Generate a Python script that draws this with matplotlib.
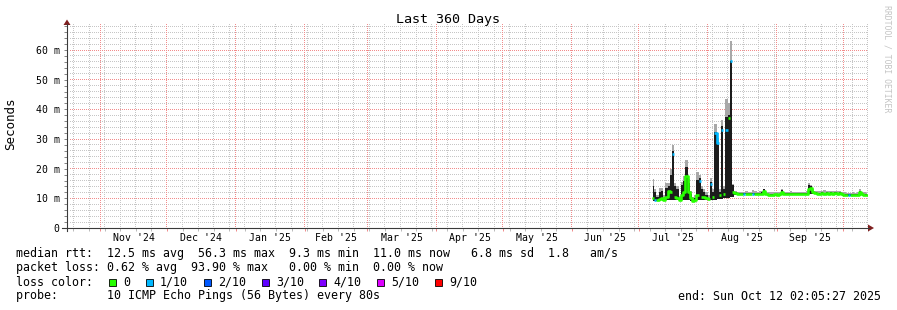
import numpy as np
import pandas as pd
import matplotlib
matplotlib.use('Agg')
import matplotlib.pyplot as plt
import matplotlib.dates as mdates
from matplotlib.ticker import MultipleLocator, FixedLocator, FuncFormatter
from matplotlib.patches import Rectangle, Polygon
from matplotlib.lines import Line2D
from matplotlib.transforms import blended_transform_factory

W, H = 897, 310
MONO = 'DejaVu Sans Mono'

# rtt values in ms, one value per day from 2025-07-07 (no data before)
first_day = '2025-07-07 12:00'
median = [
    10.0, 9.5, 9.5, 9.8, 10.2, 9.5, 10.5, 12.5, 12.0, 25.0,
    10.5, 10.0, 9.5, 11.0, 12.0, 17.5, 12.0, 10.0, 9.2, 9.5,
    11.0, 16.0, 10.5, 10.3, 10.0, 9.7, 15.0, 10.5, 32.0, 28.5,
    11.0, 33.0, 11.5, 33.0, 37.0, 56.3, 12.0, 11.8, 11.5, 11.5,
    11.5, 11.5, 11.6, 11.5, 11.5, 11.6, 11.5, 11.5, 11.6, 11.6,
    12.4, 11.3, 11.2, 11.2, 11.2, 11.3, 11.2, 11.3, 12.3, 11.5,
    11.5, 11.5, 11.6, 11.5, 11.5, 11.5, 11.5, 11.4, 11.5, 11.6,
    13.0, 13.5, 12.2, 11.7, 11.6, 11.6, 11.7, 11.6, 11.7, 11.6,
    11.8, 11.6, 11.7, 11.6, 11.7, 11.5, 11.2, 11.1, 11.1, 11.1,
    11.2, 11.1, 11.2, 12.0, 11.3, 11.2, 11.1]
smoke_low = [
    9.2, 9.0, 9.2, 9.3, 9.3, 9.2, 9.3, 9.5, 9.5, 9.5,
    9.3, 9.3, 9.2, 9.4, 9.5, 9.6, 9.4, 9.2, 8.9, 9.1,
    9.3, 9.4, 9.5, 9.6, 9.5, 9.4, 9.5, 9.6, 9.6, 9.8,
    9.8, 9.9, 10.0, 10.1, 10.2, 10.3, 10.6, 11.2, 11.2, 11.2,
    11.2, 11.2, 11.3, 11.2, 11.2, 11.3, 11.2, 11.2, 11.3, 11.3,
    11.4, 11.0, 10.9, 10.9, 10.9, 11.0, 10.9, 11.0, 11.3, 11.2,
    11.2, 11.2, 11.3, 11.2, 11.2, 11.2, 11.2, 11.1, 11.2, 11.3,
    11.5, 11.6, 11.5, 11.4, 11.3, 11.3, 11.4, 11.3, 11.4, 11.3,
    11.5, 11.3, 11.4, 11.3, 11.4, 11.2, 10.9, 10.8, 10.8, 10.8,
    10.9, 10.8, 10.9, 11.3, 11.0, 10.9, 10.8]
smoke_hi = [
    14.0, 12.0, 10.5, 12.3, 12.5, 10.2, 13.5, 14.0, 18.0, 26.0,
    14.0, 13.0, 10.0, 14.5, 16.0, 20.6, 15.3, 11.5, 9.8, 10.2,
    16.3, 17.0, 13.0, 12.0, 11.0, 10.2, 15.5, 12.0, 32.5, 29.0,
    12.0, 34.5, 13.0, 37.5, 38.0, 56.3, 14.5, 12.2, 11.8, 11.8,
    11.8, 11.8, 11.9, 11.8, 11.8, 11.9, 11.9, 11.8, 11.9, 12.0,
    13.0, 11.6, 11.5, 11.5, 11.5, 11.6, 11.5, 11.6, 12.8, 11.8,
    11.8, 11.8, 11.9, 11.8, 11.8, 11.8, 11.8, 11.7, 11.8, 11.9,
    14.5, 14.0, 12.6, 12.0, 11.9, 11.9, 12.0, 11.9, 12.0, 11.9,
    12.1, 11.9, 12.0, 11.9, 12.0, 11.8, 11.5, 11.4, 11.4, 11.4,
    11.5, 11.4, 11.5, 12.6, 11.6, 11.5, 11.4]
smoke_top = [
    16.5, 13.0, 11.0, 13.5, 13.5, 11.0, 15.3, 15.3, 20.0, 28.0,
    15.3, 14.0, 10.8, 15.5, 17.5, 23.0, 16.5, 12.5, 10.5, 11.0,
    19.0, 18.0, 14.0, 13.0, 12.0, 11.0, 17.0, 13.0, 35.0, 30.5,
    13.0, 36.5, 14.0, 43.5, 42.0, 63.0, 15.0, 12.6, 12.3, 12.3,
    12.3, 12.3, 12.4, 12.3, 12.3, 12.8, 12.5, 12.3, 12.4, 12.6,
    13.3, 12.1, 12.0, 12.0, 12.0, 12.1, 12.0, 12.1, 13.2, 12.3,
    12.3, 12.3, 12.4, 12.3, 12.3, 12.3, 12.3, 12.2, 12.3, 12.4,
    15.2, 14.5, 13.0, 12.5, 12.4, 12.4, 12.5, 12.8, 12.5, 12.4,
    12.6, 12.4, 12.5, 12.4, 12.5, 12.3, 12.0, 11.9, 11.9, 11.9,
    12.0, 11.9, 12.0, 13.0, 12.1, 12.0, 11.9]
# day indexes where 1 of 10 pings was lost
loss_1_days = [1, 9, 21, 26, 28, 29, 31, 33, 35, 41, 45, 88]

t_start = '2024-10-17 02:05:27'
t_end = '2025-10-12 02:05:27'
month_labels = ["Nov '24", "Dec '24", "Jan '25", "Feb '25", "Mar '25", "Apr '25",
                "May '25", "Jun '25", "Jul '25", "Aug '25", "Sep '25"]
loss_labels = ['0', '1/10', '2/10', '3/10', '4/10', '5/10', '9/10']
loss_colors = ['#26ff00', '#00b8ff', '#0059ff', '#5e00ff', '#7e00ff', '#dd00ff', '#ff0000']

legend_rows = [
    "median rtt:  12.5 ms avg  56.3 ms max  9.3 ms min  11.0 ms now   6.8 ms sd  1.8   am/s",
    "packet loss: 0.62 % avg  93.90 % max   0.00 % min  0.00 % now",
    "loss color:",
    "probe:       10 ICMP Echo Pings (56 Bytes) every 80s",
]

GRID = (0.78, 0.78, 0.78, 1.0)
MGRID = (0.95, 0.55, 0.55, 1.0)


def fx(x):
    return x / W


def fy(y):
    return 1 - y / H


def step_xy(t, v):
    # horizontal piece per day, broken where value is nan
    xs, ys = [], []
    for ti, vi in zip(t, v):
        if np.isnan(vi):
            xs.append(np.nan)
            ys.append(np.nan)
            continue
        xs += [ti - 0.5, ti + 0.5]
        ys += [vi, vi]
    return xs, ys


fig = plt.figure(figsize=(W / 100, H / 100), dpi=100)
fig.patch.set_facecolor('white')
ax = fig.add_axes([fx(67), fy(228), 801 / W, 204 / H])
ax.set_facecolor('none')

days = mdates.date2num(pd.date_range(first_day, periods=len(median), freq='D'))
ax.fill_between(days, smoke_low, smoke_hi, step='mid', color='#1c1c1c', lw=0, zorder=2)
ax.fill_between(days, smoke_hi, smoke_top, step='mid', color='#a8a8a8', lw=0, zorder=2)

med = np.array(median, dtype=float)
lost = np.zeros(len(med), dtype=bool)
lost[loss_1_days] = True
xs, ys = step_xy(days, np.where(lost, np.nan, med))
ax.plot(xs, ys, color=loss_colors[0], lw=1.9, solid_capstyle='butt', zorder=3)
xs, ys = step_xy(days, np.where(lost, med, np.nan))
ax.plot(xs, ys, color=loss_colors[1], lw=1.9, solid_capstyle='butt', zorder=4)

ax.set_xlim(mdates.date2num(pd.Timestamp(t_start)), mdates.date2num(pd.Timestamp(t_end)))
ax.set_ylim(0, 204 / (178 / 60))

# grid like rrdtool: weeks / months and 2 / 10 ms
ax.xaxis.set_major_locator(mdates.MonthLocator())
ax.xaxis.set_minor_locator(mdates.WeekdayLocator(byweekday=mdates.SU))
ax.yaxis.set_major_locator(MultipleLocator(10))
ax.yaxis.set_minor_locator(FixedLocator([v for v in range(2, 70, 2) if v % 10]))
ax.grid(False)

# 1px dotted grid painted as a pixel layer under the axes
layer = np.zeros((H, W, 4))
left, top, right, bottom = 67, 24, 868, 228


def dots_h(v, col):
    r = int(H - ax.transData.transform((0, v))[1])
    if top <= r < bottom:
        layer[r, left + 3:right:2] = col


def dots_v(v, col):
    c = int(ax.transData.transform((v, 0))[0])
    if left < c < right:
        layer[top:bottom:2, c] = col


for v in ax.yaxis.get_minorticklocs():
    dots_h(v, GRID)
for v in ax.xaxis.get_minorticklocs():
    dots_v(v, GRID)
for v in ax.yaxis.get_majorticklocs():
    if v > 0:
        dots_h(v, MGRID)
for v in ax.xaxis.get_majorticklocs():
    dots_v(v, MGRID)
fig.figimage(layer, 0, 0, origin='upper', zorder=-1)

for s in ax.spines.values():
    s.set_visible(False)
ax.tick_params(axis='x', which='major', length=2.2, width=0.72, color='#f08c8c', labelbottom=False)
ax.tick_params(axis='x', which='minor', length=2.2, width=0.72, color='#bbbbbb')
ax.tick_params(axis='y', which='both', length=2.2, width=0.72, color='#888888')
ax.yaxis.set_major_formatter(FuncFormatter(lambda v, p: '0' if v == 0 else '%d m' % v))
for lab in ax.get_yticklabels():
    lab.set_family(MONO)
    lab.set_fontsize(7.1)
ax.tick_params(axis='y', pad=3)

# month labels in the middle of each month
tr = blended_transform_factory(ax.transData, fig.transFigure)
months = pd.date_range('2024-11-01', periods=len(month_labels) + 1, freq='MS')
for i, lab in enumerate(month_labels):
    mid = (mdates.date2num(months[i]) + mdates.date2num(months[i + 1])) / 2
    ax.text(mid, fy(238), lab, transform=tr, ha='center', va='center',
            family=MONO, fontsize=7.1, clip_on=False)

# axes with arrows
fig.add_artist(Line2D([fx(62), fx(869)], [fy(228), fy(228)], color='#3a3a3a', lw=0.8))
fig.add_artist(Line2D([fx(67), fx(67)], [fy(231), fy(24)], color='#3a3a3a', lw=0.8))
fig.add_artist(Polygon([(fx(868), fy(224.5)), (fx(874), fy(228)), (fx(868), fy(231.5))],
                       closed=True, color='#7f1f1f', lw=0))
fig.add_artist(Polygon([(fx(63.5), fy(25)), (fx(67), fy(19.5)), (fx(70.5), fy(25))],
                       closed=True, color='#7f1f1f', lw=0))

fig.text(fx(448), fy(19), 'Last 360 Days', ha='center', va='center', family=MONO, fontsize=9.6)
fig.text(fx(11), fy(124), 'Seconds', ha='center', va='center', rotation=90,
         family=MONO, fontsize=9)
fig.text(fx(887), fy(5), 'RRDTOOL / TOBI OETIKER', ha='center', va='top', rotation=270,
         family=MONO, fontsize=5.9, color='#c4c4c4')

# legend
for k, row in enumerate(legend_rows):
    fig.text(fx(16), fy(254 + 14 * k), row, ha='left', va='center', family=MONO, fontsize=8.4)
text_x = [123, 160, 218, 276, 333, 391, 449]
for tx, lab, col in zip(text_x, loss_labels, loss_colors):
    fig.add_artist(Rectangle((fx(tx - 14.5), fy(286)), 7.5 / W, 7.5 / H,
                             facecolor=col, edgecolor='black', lw=0.6))
    fig.text(fx(tx), fy(282), lab, ha='left', va='center', family=MONO, fontsize=8.4)
fig.text(fx(881), fy(296), 'end: Sun Oct 12 02:05:27 2025', ha='right', va='center',
         family=MONO, fontsize=8.4)

fig.savefig('out.png', dpi=100)
